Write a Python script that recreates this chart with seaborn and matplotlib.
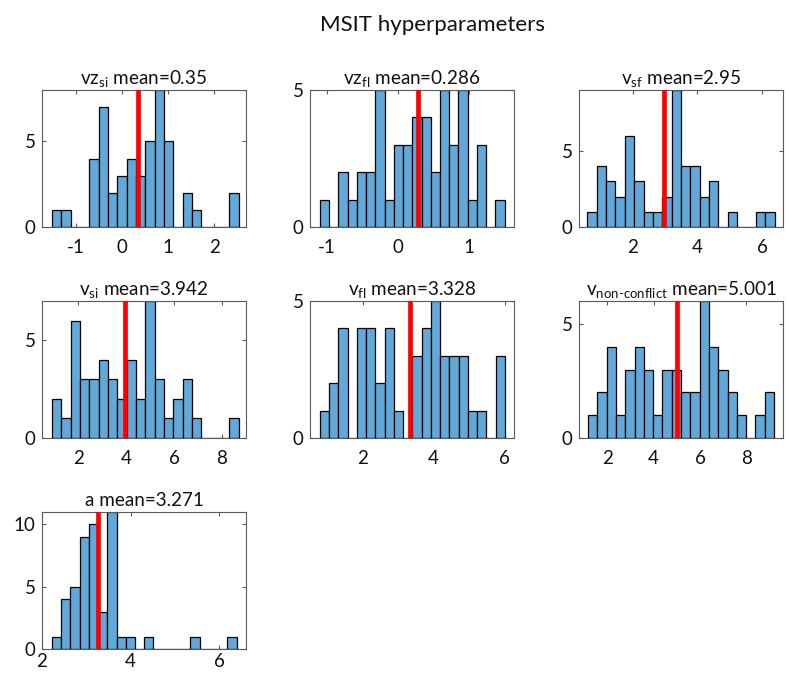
import numpy as np
import pandas as pd
import matplotlib
matplotlib.use("Agg")
import matplotlib.pyplot as plt
import seaborn as sns

sns.set_style("ticks")
plt.rcParams['font.family'] = ['Lato', 'DejaVu Sans']
plt.rcParams['mathtext.fontset'] = 'custom'
plt.rcParams['mathtext.rm'] = 'Lato'
plt.rcParams['mathtext.it'] = 'Lato'
plt.rcParams['mathtext.default'] = 'regular'
plt.rcParams['axes.unicode_minus'] = False

# ---- data ----
titles = [r"vz$_{si}$ mean=0.35", r"vz$_{fl}$ mean=0.286", r"v$_{sf}$ mean=2.95",
          r"v$_{si}$ mean=3.942", r"v$_{fl}$ mean=3.328",
          r"v$_{non\text{-}conflict}$ mean=5.001", r"a mean=3.271"]
means = [0.35, 0.286, 2.95, 3.942, 3.328, 5.001, 3.271]

counts_vz_si = [1, 1, 0, 0, 4, 7, 2, 3, 4, 3, 5, 8, 5, 0, 2, 1, 0, 0, 0, 2]
counts_vz_fl = [1, 0, 2, 1, 2, 2, 5, 1, 3, 3, 4, 4, 2, 5, 3, 5, 1, 3, 0, 1]
counts_v_sf = [1, 4, 3, 2, 6, 3, 1, 1, 2, 9, 4, 4, 2, 3, 0, 1, 0, 0, 1, 1]
counts_v_si = [2, 1, 6, 3, 3, 4, 3, 2, 4, 2, 7, 3, 1, 2, 3, 1, 0, 0, 0, 1]
counts_v_fl = [1, 2, 4, 0, 4, 4, 2, 4, 1, 0, 3, 4, 5, 3, 3, 3, 1, 1, 0, 3]
counts_v_nc = [1, 2, 4, 1, 3, 4, 3, 1, 3, 3, 2, 2, 6, 4, 3, 2, 1, 0, 1, 2]
counts_a = [1, 4, 5, 9, 10, 3, 11, 1, 1, 0, 1, 0, 0, 0, 0, 1, 0, 0, 0, 1]
all_counts = [counts_vz_si, counts_vz_fl, counts_v_sf, counts_v_si,
              counts_v_fl, counts_v_nc, counts_a]

bin_start = [-1.513, -1.10, 0.59, 0.906, 0.787, 1.175, 2.226]
bin_width = [0.2019, 0.130, 0.290, 0.390, 0.261, 0.4008, 0.208]

xlims = [(-1.727, 2.687), (-1.239, 1.631), (0.33, 6.65), (0.485, 9.01),
         (0.512, 6.265), (0.785, 9.575), (2.0, 6.6)]
ylims = [8, 5, 9, 7, 5, 6, 11]
xticks = [[-1, 0, 1, 2], [-1, 0, 1], [2, 4, 6], [2, 4, 6, 8],
          [2, 4, 6], [2, 4, 6, 8], [2, 4, 6]]
yticks = [[0, 5], [0, 5], [0, 5], [0, 5], [0, 5], [0, 5], [0, 5, 10]]

# ---- layout (pixels) ----
W, H = 789, 675
fig = plt.figure(figsize=(W / 100, H / 100), dpi=100)
lefts = [42, 310, 579]
tops = [90, 301, 512]
aw, ah = 204, 137

bar_color = '#62A8D8'
spine_c = '#5a5a5a'

for i in range(7):
    r, c = divmod(i, 3)
    L, T = lefts[c], tops[r]
    ax = fig.add_axes([L / W, 1 - (T + ah) / H, aw / W, ah / H])
    n = len(all_counts[i])
    lo = bin_start[i]
    hi = bin_start[i] + bin_width[i] * n
    centers = lo + bin_width[i] * (np.arange(n) + 0.5)
    df = pd.DataFrame({'x': centers, 'w': np.asarray(all_counts[i], dtype=float)})
    sns.histplot(data=df, x='x', weights='w', bins=n, binrange=(lo, hi), ax=ax,
                 color=bar_color, alpha=1, edgecolor='black', linewidth=0.9)
    ax.axvline(means[i], color='#ff0000', lw=3.4, zorder=5)
    ax.set_xlim(*xlims[i])
    ax.set_ylim(0, ylims[i])
    ax.set_xticks(xticks[i])
    ax.set_yticks(yticks[i])
    ax.set_xlabel('')
    ax.set_ylabel('')
    ax.tick_params(direction='in', top=True, right=True, length=3, width=0.8,
                   color=spine_c, labelsize=13.5, labelcolor='#111111')
    ax.tick_params(axis='x', pad=8.5 if r < 2 else 3.0)
    ax.tick_params(axis='y', pad=4.5)
    for s in ax.spines.values():
        s.set_visible(True)
        s.set_color(spine_c)
        s.set_linewidth(0.8)
    ax.set_title(titles[i], fontsize=13.6, pad=4.5, color='#111111')

fig.text(432 / W, 1 - 25 / H, 'MSIT hyperparameters', ha='center', va='center',
         fontsize=16, color='#111111')

fig.savefig('out.png', dpi=100, facecolor='white')
